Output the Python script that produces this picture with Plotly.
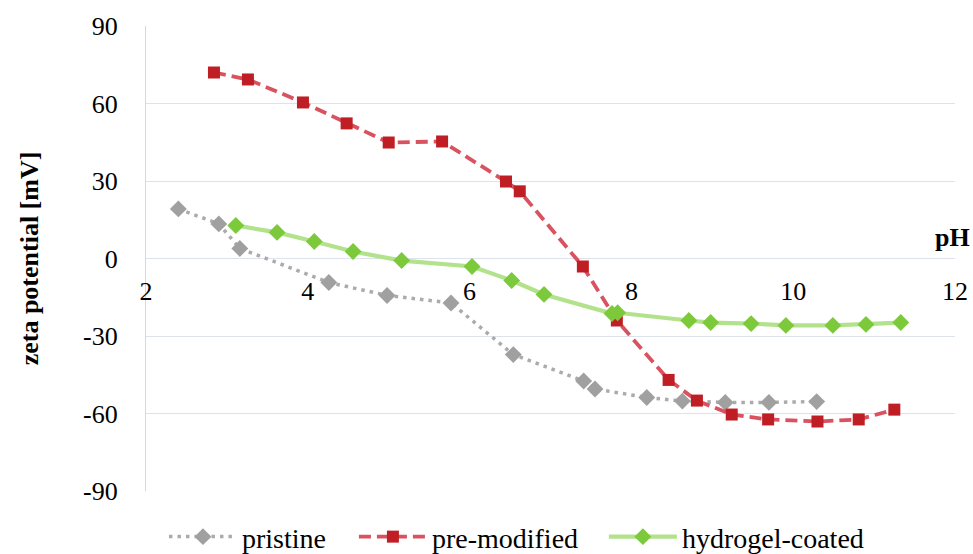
import plotly.graph_objects as go

# pristine
ph_pristine = [2.40, 2.90, 3.16, 4.26, 4.98, 5.77, 6.54, 7.41, 7.55, 8.19, 8.63, 9.16, 9.70, 10.29]
zp_pristine = [19.2, 13.4, 3.9, -9.3, -14.3, -17.2, -37.2, -47.4, -50.5, -53.8, -55.2, -55.7, -55.7, -55.4]

# pre-modified
ph_premod = [2.84, 3.26, 3.94, 4.48, 5.00, 5.66, 6.45, 6.62, 7.40, 7.82, 8.46, 8.81, 9.24, 9.69, 10.30, 10.81, 11.25]
zp_premod = [72.0, 69.3, 60.4, 52.3, 44.9, 45.3, 29.8, 26.0, -3.1, -24.0, -47.0, -55.0, -60.4, -62.3, -63.1, -62.3, -58.5]

# hydrogel-coated
ph_hydro = [3.11, 3.62, 4.08, 4.56, 5.16, 6.03, 6.52, 6.92, 7.76, 7.83, 8.71, 8.98, 9.48, 9.91, 10.49, 10.90, 11.33]
zp_hydro = [12.8, 10.1, 6.6, 2.7, -0.8, -3.1, -8.5, -13.9, -21.3, -21.0, -24.0, -24.8, -25.2, -25.9, -25.9, -25.5, -24.8]

x_ticks = [2, 4, 6, 8, 10, 12]
y_ticks = [-90, -60, -30, 0, 30, 60, 90]

FONT = "Liberation Serif"

fig = go.Figure()
fig.add_trace(go.Scatter(
    x=ph_pristine, y=zp_pristine, name="pristine", mode="lines+markers", legend="legend",
    line=dict(color="#ABABAB", width=3.5, dash="3.5px,5px"),
    marker=dict(symbol="diamond", size=13, color="#A0A0A0"),
))
fig.add_trace(go.Scatter(
    x=ph_premod, y=zp_premod, name="pre-modified", mode="lines+markers", legend="legend2",
    line=dict(color="#D9525F", width=3.8, dash="12px,6px"),
    marker=dict(symbol="square", size=12, color="#BE1E24"),
))
fig.add_trace(go.Scatter(
    x=ph_hydro, y=zp_hydro, name="hydrogel-coated", mode="lines+markers", legend="legend3",
    line=dict(color="#B3E28C", width=4.2),
    marker=dict(symbol="diamond", size=13, color="#7DC93C"),
))

leg_common = dict(orientation="h", xanchor="left", y=-0.045, yanchor="top",
                  font=dict(family=FONT, size=28, color="black"), itemwidth=68,
                  bgcolor="rgba(0,0,0,0)")

fig.update_layout(
    width=973, height=554,
    margin=dict(l=146, r=18, t=26, b=63, autoexpand=False),
    paper_bgcolor="white", plot_bgcolor="white",
    font=dict(family=FONT, size=26, color="black"),
    showlegend=True,
    legend=dict(x=0.0222, **leg_common),
    legend2=dict(x=0.257, **leg_common),
    legend3=dict(x=0.566, **leg_common),
    xaxis=dict(range=[2, 12], tickvals=x_ticks, ticktext=[str(v) for v in x_ticks],
               showgrid=False, zeroline=False, showline=False, automargin=False,
               anchor="free", position=0.5, ticks="", ticklabelstandoff=14,
               tickfont=dict(family=FONT, size=26, color="black")),
    yaxis=dict(range=[-90, 90], tickvals=y_ticks, ticktext=[str(v) for v in y_ticks],
               showgrid=True, gridcolor="#DEE2EC", gridwidth=1.3, automargin=False,
               zeroline=False, showline=True, linecolor="#D3D8E6", linewidth=1.3,
               ticks="", ticklabelstandoff=22,
               tickfont=dict(family=FONT, size=26, color="black"),
               title=dict(text="<b>zeta potential [mV]</b>", standoff=36,
                          font=dict(family=FONT, size=26, color="black"))),
    annotations=[dict(text="<b>pH</b>", xref="paper", yref="paper", x=1.0, y=0.5,
                      xanchor="right", yanchor="bottom", xshift=17, yshift=5, showarrow=False,
                      font=dict(family=FONT, size=26, color="black"))],
)

fig.write_html("out.html", config={"displayModeBar": False},
               post_script="document.body.style.margin='0';document.body.style.padding='0';")
